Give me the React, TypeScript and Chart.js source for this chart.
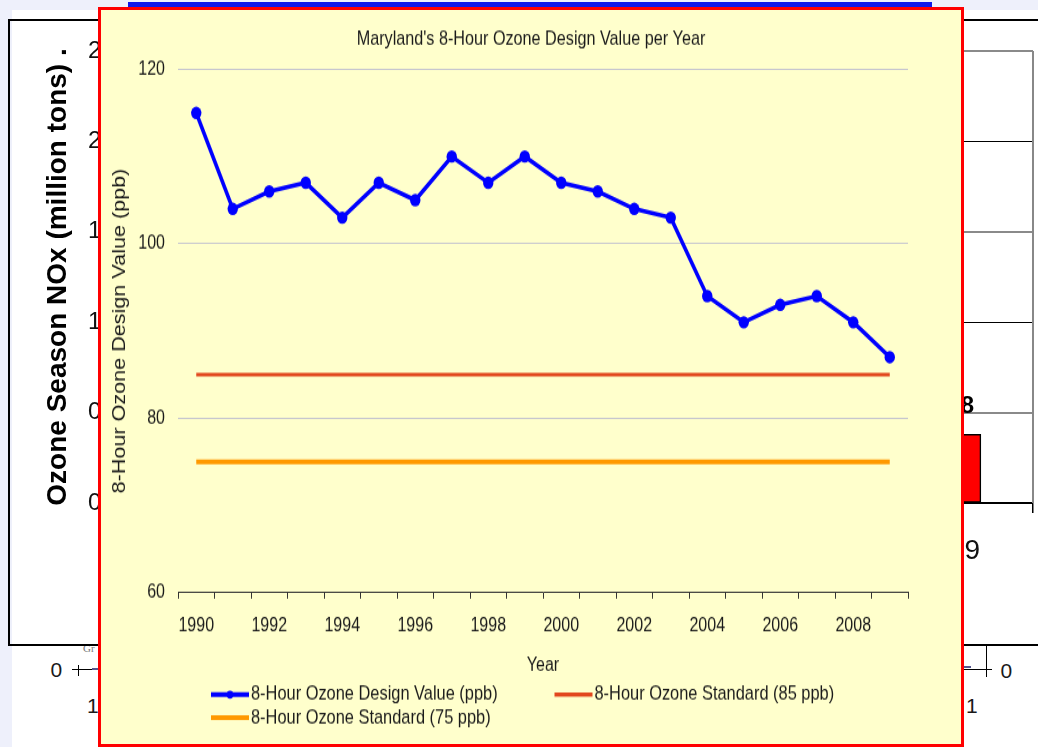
import React, { useEffect, useRef } from "react";
import { Chart, registerables } from "chart.js";

Chart.register(...registerables);

// ---------- Main chart data ----------
const years = ["1990", "1991", "1992", "1993", "1994", "1995", "1996", "1997", "1998", "1999", "2000", "2001", "2002", "2003", "2004", "2005", "2006", "2007", "2008", "2009"];
const designValues = [115, 104, 106, 107, 103, 107, 105, 110, 107, 110, 107, 106, 104, 103, 94, 91, 93, 94, 91, 87];
const standard85 = [85, 85, 85, 85, 85, 85, 85, 85, 85, 85, 85, 85, 85, 85, 85, 85, 85, 85, 85, 85];
const standard75 = [75, 75, 75, 75, 75, 75, 75, 75, 75, 75, 75, 75, 75, 75, 75, 75, 75, 75, 75, 75];
const yTickValues = [60, 80, 100, 120];
const seriesLabels = ["8-Hour Ozone Design Value (ppb)", "8-Hour Ozone Standard (85 ppb)", "8-Hour Ozone Standard (75 ppb)"];
const chartTitle = "Maryland's 8-Hour Ozone Design Value per Year";
const yTitle = "8-Hour Ozone Design Value (ppb)";
const xTitle = "Year";

// ---------- Background (partly hidden) chart data ----------
const noxYears = ["2004", "2005", "2006", "2007", "2008", "2009"];
const noxValues: (number | null)[] = [null, null, null, null, null, 0.38];
const noxTickValues = [0, 0.5, 1, 1.5, 2, 2.5];
const noxYTitle = "Ozone Season NOx (million tons) .";

const FONT = "'Liberation Sans', Arial, Helvetica, sans-serif";
const STRETCH = 1.2;
const PANEL_W = 860;
const PANEL_H = 734;

const legendPlugin = {
  id: "customLegend",
  afterDraw(chart: any) {
    const ctx = chart.ctx;
    const ds = chart.data.datasets;
    const slots = [
      { x: 110, y: 570.8 },
      { x: 453.5, y: 570.8 },
      { x: 110, y: 590 },
    ];
    ctx.save();
    ds.forEach((d: any, i: number) => {
      const s = slots[i];
      const len = 38;
      ctx.strokeStyle = d.borderColor;
      ctx.lineWidth = d.legendLineWidth;
      ctx.beginPath();
      ctx.moveTo(s.x, s.y);
      ctx.lineTo(s.x + len, s.y);
      ctx.stroke();
      if (d.pointRadius > 0) {
        ctx.fillStyle = d.borderColor;
        ctx.beginPath();
        ctx.arc(s.x + len / 2, s.y, 3.4, 0, Math.PI * 2);
        ctx.fill();
      }
      ctx.fillStyle = "#1a1a1a";
      ctx.font = `16.4px ${FONT}`;
      ctx.textBaseline = "middle";
      ctx.textAlign = "left";
      ctx.fillText(d.label, s.x + len + 2, s.y);
    });
    ctx.restore();
  },
};

const barValuePlugin = {
  id: "barValue",
  afterDatasetsDraw(chart: any) {
    const ctx = chart.ctx;
    const meta = chart.getDatasetMeta(0);
    ctx.save();
    ctx.font = `bold 24px ${FONT}`;
    ctx.fillStyle = "#000";
    ctx.textAlign = "center";
    ctx.textBaseline = "middle";
    meta.data.forEach((el: any, i: number) => {
      const v = chart.data.datasets[0].data[i];
      if (v === null || v === undefined) return;
      ctx.fillText(Number(v).toFixed(2), el.x - 7, el.y - 28);
    });
    ctx.restore();
  },
};

const plotBorderPlugin = {
  id: "plotBorder",
  afterDraw(chart: any) {
    const { ctx, chartArea } = chart;
    ctx.save();
    ctx.strokeStyle = "#888";
    ctx.lineWidth = 2;
    ctx.beginPath();
    ctx.moveTo(chartArea.right, chartArea.top);
    ctx.lineTo(chartArea.right, chartArea.bottom);
    ctx.stroke();
    ctx.restore();
  },
};

export default function App() {
  const mainRef = useRef<HTMLCanvasElement>(null);
  const bgRef = useRef<HTMLCanvasElement>(null);

  useEffect(() => {
    Chart.defaults.font.family = FONT;

    const bg = new Chart(bgRef.current as HTMLCanvasElement, {
      type: "bar",
      data: {
        labels: noxYears,
        datasets: [
          {
            data: noxValues as any,
            backgroundColor: "#FF0000",
            borderColor: "#000",
            borderWidth: 1.5,
            borderSkipped: false,
            barThickness: 46,
          },
        ],
      },
      options: {
        responsive: false,
        animation: false,
        devicePixelRatio: 1,
        layout: { padding: { left: 0, right: 5, top: 30, bottom: 38 } },
        plugins: { legend: { display: false }, tooltip: { enabled: false }, title: { display: false } },
        scales: {
          x: {
            grid: { offset: true, drawOnChartArea: false, tickLength: 10, color: "#000", lineWidth: 1.5 },
            border: { color: "#000", width: 1.5 },
            ticks: { padding: 21, font: { family: FONT, size: 28 }, color: "#111", labelOffset: -9, maxRotation: 0, autoSkip: false },
            afterFit: (s: any) => { s.height = 100; },
          },
          y: {
            min: 0,
            max: 2.5,
            afterBuildTicks: (s: any) => { s.ticks = noxTickValues.map((v) => ({ value: v })); },
            grid: {
              drawTicks: false,
              color: (c: any) => (Math.round(c.tick.value * 2) % 2 ? "#8a8a8a" : "#000"),
              lineWidth: (c: any) => (Math.round(c.tick.value * 2) % 2 ? 2 : 1),
            },
            border: { display: false },
            ticks: { padding: 10, font: { family: FONT, size: 24 }, color: "#111", callback: (v: any) => Number(v).toFixed(1) },
            title: { display: true, text: noxYTitle, font: { family: FONT, size: 28, weight: "bold" }, color: "#000", padding: { top: 31, bottom: 0 } },
            afterFit: (s: any) => { s.width = 121.4; },
          },
        },
      },
      plugins: [barValuePlugin, plotBorderPlugin],
    } as any);

    const main = new Chart(mainRef.current as HTMLCanvasElement, {
      type: "line",
      data: {
        labels: years,
        datasets: [
          {
            label: seriesLabels[0],
            data: designValues,
            borderColor: "#0000FF",
            backgroundColor: "#0000FF",
            pointBackgroundColor: "#0000FF",
            pointBorderWidth: 0,
            borderWidth: 3.6,
            pointRadius: 5.2,
            tension: 0,
            legendLineWidth: 3.9,
          },
          {
            label: seriesLabels[1],
            data: standard85,
            borderColor: "#E2471D",
            backgroundColor: "#E2471D",
            borderWidth: 3,
            pointRadius: 0,
            legendLineWidth: 3.4,
          },
          {
            label: seriesLabels[2],
            data: standard75,
            borderColor: "#FF9900",
            backgroundColor: "#FF9900",
            borderWidth: 4,
            pointRadius: 0,
            legendLineWidth: 3.9,
          },
        ],
      },
      options: {
        responsive: false,
        animation: false,
        devicePixelRatio: 1,
        layout: { padding: { left: 0, right: 0, top: 0, bottom: 51.2 } },
        plugins: {
          legend: { display: false },
          tooltip: { enabled: false },
          title: {
            display: true,
            text: chartTitle,
            color: "#1a1a1a",
            font: { family: FONT, size: 16.2, weight: "normal" },
            padding: { top: 14.6, bottom: 15.4 },
          },
        },
        scales: {
          x: {
            offset: true,
            grid: { offset: true, drawOnChartArea: false, drawTicks: true, tickLength: 5, color: "#333", lineWidth: 1 },
            border: { display: true, color: "#333", width: 1 },
            ticks: {
              autoSkip: false,
              maxRotation: 0,
              padding: 13.6,
              color: "#1a1a1a",
              font: { family: FONT, size: 16 },
              callback: (_v: any, i: number) => (i % 2 === 0 ? years[i] : ""),
            },
            title: { display: true, text: xTitle, color: "#1a1a1a", font: { family: FONT, size: 16 }, padding: { top: 0, bottom: 5 } },
            afterFit: (s: any) => { s.height = 75; },
          },
          y: {
            min: 60,
            max: 120,
            afterBuildTicks: (s: any) => { s.ticks = yTickValues.map((v) => ({ value: v })); },
            grid: {
              drawTicks: false,
              color: (c: any) => (c.tick && c.tick.value === 60 ? "rgba(0,0,0,0)" : "#C4C4CE"),
              lineWidth: 1,
            },
            border: { display: false },
            ticks: { padding: 13, color: "#1a1a1a", font: { family: FONT, size: 16 } },
            title: { display: true, text: yTitle, color: "#1a1a1a", font: { family: FONT, size: 18 }, padding: { top: 8.2, bottom: 0 } },
            afterFit: (s: any) => { s.width = 77; },
          },
          yRight: {
            position: "right",
            display: true,
            min: 60,
            max: 120,
            grid: { display: false, drawTicks: false },
            border: { display: false },
            ticks: { display: false },
            afterFit: (s: any) => { s.width = 53; },
          },
        },
      },
      plugins: [legendPlugin],
    } as any);

    return () => {
      main.destroy();
      bg.destroy();
    };
  }, []);

  const abs = (s: React.CSSProperties): React.CSSProperties => ({ position: "absolute", ...s });
  const txt = (left: number, top: number, size: number, content: string, extra: React.CSSProperties = {}) => (
    <div style={abs({ left, top, fontSize: size, lineHeight: `${size}px`, fontFamily: FONT, color: "#1a1a1a", whiteSpace: "nowrap", ...extra })}>{content}</div>
  );

  return (
    <div style={{ position: "fixed", left: 0, top: 0, width: 1038, height: 747, overflow: "hidden", background: "#EEF0FB" }}>
      {/* white slide area */}
      <div style={abs({ left: 12, top: 10, right: 0, bottom: 0, background: "#FFFFFF" })} />
      {/* small serif remnant */}
      {txt(83, 643, 11, "Gr", { fontFamily: "'Liberation Serif', 'DejaVu Serif', serif", color: "#777" })}
      {/* background bar chart box */}
      <div style={abs({ left: 8, top: 19, width: 1100, height: 627, border: "2px solid #000", boxSizing: "border-box", background: "transparent" })} />
      <canvas ref={bgRef} width={1028} height={620} style={abs({ left: 10, top: 21, width: 1028, height: 620 })} />
      {/* bottom remnant axes */}
      {txt(50.5, 659, 21, "0")}
      <div style={abs({ left: 72, top: 669, width: 28, height: 1, background: "#000" })} />
      <div style={abs({ left: 78, top: 665, width: 1, height: 11, background: "#000" })} />
      <div style={abs({ left: 92, top: 668, width: 8, height: 2, background: "#56568E" })} />
      {txt(87, 695, 21, "1")}
      <div style={abs({ left: 986, top: 645, width: 1, height: 32, background: "#000" })} />
      <div style={abs({ left: 962, top: 669, width: 30, height: 1, background: "#000" })} />
      <div style={abs({ left: 962, top: 666, width: 9, height: 2, background: "#56568E" })} />
      {txt(1000.5, 660, 21, "0")}
      {txt(966, 695, 21, "1")}
      {/* top blue bar */}
      <div style={abs({ left: 128, top: 2, width: 804, height: 6, background: "#1018E8" })} />
      {/* main panel */}
      <div style={abs({ left: 98, top: 7, width: 866, height: 740, border: "3px solid #FF0000", boxSizing: "border-box", background: "#FFFFCC" })}>
        <canvas
          ref={mainRef}
          width={PANEL_W}
          height={Math.round(PANEL_H / STRETCH)}
          style={{ position: "absolute", left: 0, top: 0, width: PANEL_W, height: PANEL_H }}
        />
      </div>
    </div>
  );
}
